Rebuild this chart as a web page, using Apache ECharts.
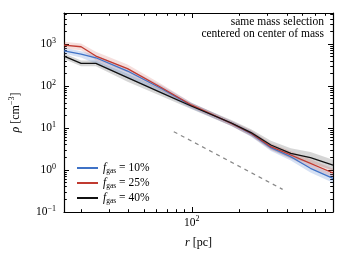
<!DOCTYPE html>
<html>
<head>
<meta charset="utf-8">
<script src="https://cdn.jsdelivr.net/npm/echarts@6/dist/echarts.min.js"></script>
<style>
html,body{margin:0;padding:0;background:#fff;}
#c{width:346px;height:260px;}
</style>
</head>
<body>
<div id="c"></div>
<script>
// ---- data ----
const radius = [15.6, 20, 24.8, 39.3, 65, 100, 178, 237, 316, 422, 562, 780];
const rhoGas10 = [692, 578, 472, 228, 85, 34, 12.9, 7.3, 3.4, 2.07, 1.1, 0.63];
const rhoGas25 = [946, 863, 518, 260, 90, 35, 12.9, 7.5, 3.6, 2.28, 1.44, 0.85];
const rhoGas40 = [518, 347, 347, 159, 68, 33, 13.2, 7.8, 3.94, 2.5, 1.98, 1.31];
// band half widths (dex) read from the shaded regions
const band10Up   = [0.07, 0.07, 0.06, 0.06, 0.08, 0.07, 0.06, 0.07, 0.08, 0.09, 0.10, 0.10];
const band10Down = [0.07, 0.08, 0.14, 0.17, 0.10, 0.07, 0.06, 0.07, 0.08, 0.09, 0.10, 0.10];
const band25Up   = [0.08, 0.08, 0.10, 0.10, 0.08, 0.06, 0.06, 0.07, 0.08, 0.09, 0.10, 0.10];
const band25Down = [0.08, 0.08, 0.10, 0.10, 0.08, 0.06, 0.06, 0.07, 0.08, 0.09, 0.10, 0.10];
const band40Up   = [0.07, 0.07, 0.07, 0.10, 0.08, 0.07, 0.07, 0.08, 0.10, 0.12, 0.13, 0.13];
const band40Down = [0.07, 0.07, 0.07, 0.10, 0.08, 0.07, 0.07, 0.08, 0.10, 0.12, 0.13, 0.13];
const slopeR = [77, 375];
const slopeRho = [8.2, 0.346];
const seriesNames = ['fgas = 10%', 'fgas = 25%', 'fgas = 40%'];
const legendPercents = ['10%', '25%', '40%'];
const noteLines = ['same mass selection', 'centered on center of mass'];
const xMajor = [100];
const xMinor = [20, 30, 40, 50, 60, 70, 80, 90, 200, 300, 400, 500, 600, 700];
const yMajor = [0.1, 1, 10, 100, 1000];
const yMinor = [0.2, 0.3, 0.4, 0.5, 0.6, 0.7, 0.8, 0.9, 2, 3, 4, 5, 6, 7, 8, 9,
                20, 30, 40, 50, 60, 70, 80, 90, 200, 300, 400, 500, 600, 700, 800, 900,
                2000, 3000, 4000, 5000];
const xMin = 15.6, xMax = 780, yMin = 0.1, yMax = 5500;

const FONT = 'Liberation Serif';
const colBlue = '#3f72c6', colRed = '#c03a30', colBlack = '#111111';

function lowHigh(vals, up, down) {
  return {
    lo: vals.map((v, i) => v / Math.pow(10, down[i])),
    hi: vals.map((v, i) => v * Math.pow(10, up[i]))
  };
}
const b10 = lowHigh(rhoGas10, band10Up, band10Down);
const b25 = lowHigh(rhoGas25, band25Up, band25Down);
const b40 = lowHigh(rhoGas40, band40Up, band40Down);

function bandSeries(b, fill) {
  return {
    type: 'custom', silent: true, clip: true, z: 1,
    xAxisIndex: 0, yAxisIndex: 0,
    data: radius.map((x, i) => [x, b.lo[i], b.hi[i]]),
    encode: { x: 0, y: [1, 2] },
    renderItem: function (params, api) {
      if (params.dataIndex !== 0) return null;
      const pts = [];
      for (let i = 0; i < radius.length; i++) pts.push(api.coord([radius[i], b.hi[i]]));
      for (let i = radius.length - 1; i >= 0; i--) pts.push(api.coord([radius[i], b.lo[i]]));
      return { type: 'polygon', shape: { points: pts }, style: { fill: fill } };
    }
  };
}
function lineSeries(name, vals, color) {
  return {
    name: name, type: 'line', showSymbol: false, z: 3, silent: true,
    xAxisIndex: 0, yAxisIndex: 0,
    data: radius.map((x, i) => [x, vals[i]]),
    lineStyle: { color: color, width: 1.3 }, itemStyle: { color: color }
  };
}

const powRich = {
  b: { fontFamily: FONT, fontSize: 11.5, color: '#000', lineHeight: 15 },
  sup: { fontFamily: FONT, fontSize: 8, color: '#000', lineHeight: 9, verticalAlign: 'top' }
};
function powFmt(v) {
  const e = Math.round(Math.log10(v));
  return '{b|10}{sup|' + (e < 0 ? '\u2212' + (-e) : e) + '}';
}
const noLbl = { show: false };
function xAx(pos, major, withLabel) {
  return {
    type: 'log', logBase: 10, min: xMin, max: xMax, position: pos,
    splitLine: { show: false },
    axisLine: { show: major, lineStyle: { color: '#000', width: 1.2 } },
    axisTick: { show: true, inside: true, length: major ? 5 : 2.8,
      customValues: major ? xMajor : xMinor, lineStyle: { color: '#000', width: 1 } },
    axisLabel: withLabel ? { show: true, customValues: xMajor, formatter: powFmt, rich: powRich, margin: 3 } : noLbl,
    name: withLabel ? '{i|r} [pc]' : '',
    nameLocation: 'middle', nameGap: 25,
    nameTextStyle: { fontFamily: FONT, fontSize: 12, color: '#000',
      rich: { i: { fontFamily: FONT, fontSize: 12, fontStyle: 'italic', color: '#000' } } }
  };
}
function yAx(pos, major, withLabel) {
  return {
    type: 'log', logBase: 10, min: yMin, max: yMax, position: pos,
    splitLine: { show: false },
    axisLine: { show: major, lineStyle: { color: '#000', width: 1.2 } },
    axisTick: { show: true, inside: true, length: major ? 5 : 2.8,
      customValues: major ? yMajor : yMinor, lineStyle: { color: '#000', width: 1 } },
    axisLabel: withLabel ? { show: true, customValues: yMajor, formatter: powFmt, rich: powRich, margin: 8 } : noLbl,
    name: withLabel ? '{i|\u03c1} [cm{sup|\u22123}]' : '',
    nameLocation: 'middle', nameGap: 41, nameRotate: 90,
    nameTextStyle: { fontFamily: FONT, fontSize: 12, color: '#000',
      rich: {
        i: { fontFamily: FONT, fontSize: 12, fontStyle: 'italic', color: '#000', lineHeight: 15 },
        sup: { fontFamily: FONT, fontSize: 8, color: '#000', lineHeight: 9, verticalAlign: 'top' }
      } }
  };
}

const chart = echarts.init(document.getElementById('c'), null, { renderer: 'canvas' });
chart.setOption({
  animation: false,
  backgroundColor: '#fff',
  grid: { left: 61, right: 13, top: 13, bottom: 48 },
  xAxis: [xAx('bottom', true, true), xAx('bottom', false, false), xAx('top', true, false), xAx('top', false, false)],
  yAxis: [yAx('left', true, true), yAx('left', false, false), yAx('right', true, false), yAx('right', false, false)],
  legend: {
    orient: 'vertical', left: 72, top: 157, itemWidth: 21, itemHeight: 2, itemGap: 2,
    icon: 'rect', data: seriesNames,
    formatter: function (name) {
      const k = seriesNames.indexOf(name);
      return '{i|f}{sub|gas}{t| = ' + legendPercents[k] + '}';
    },
    textStyle: {
      fontFamily: FONT, fontSize: 11.5, color: '#000',
      rich: {
        i: { fontFamily: FONT, fontSize: 11.5, fontStyle: 'italic', color: '#000', lineHeight: 14 },
        sub: { fontFamily: FONT, fontSize: 7.5, color: '#000', lineHeight: 8, verticalAlign: 'bottom' },
        t: { fontFamily: FONT, fontSize: 11.5, color: '#000', lineHeight: 14 }
      }
    }
  },
  graphic: [
    { type: 'text', right: 22, top: 16,
      style: { text: noteLines[0], fontFamily: FONT, fontSize: 11.5, fill: '#000' } },
    { type: 'text', right: 22, top: 28,
      style: { text: noteLines[1], fontFamily: FONT, fontSize: 11.5, fill: '#000' } }
  ],
  series: [
    bandSeries(b40, 'rgba(0,0,0,0.16)'),
    bandSeries(b10, 'rgba(70,120,205,0.22)'),
    bandSeries(b25, 'rgba(200,70,60,0.18)'),
    lineSeries(seriesNames[0], rhoGas10, colBlue),
    lineSeries(seriesNames[1], rhoGas25, colRed),
    lineSeries(seriesNames[2], rhoGas40, colBlack),
    {
      type: 'line', showSymbol: false, silent: true, z: 2,
      data: slopeR.map((x, i) => [x, slopeRho[i]]),
      lineStyle: { color: '#888', width: 1.2, type: [4, 4] }
    }
  ]
});
</script>
</body>
</html>
